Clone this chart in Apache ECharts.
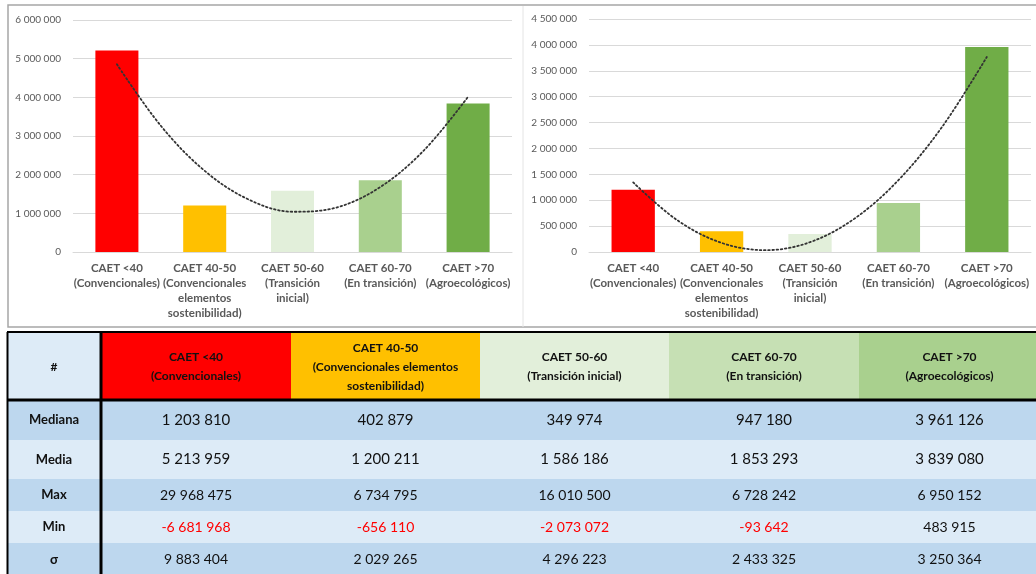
<!DOCTYPE html>
<html><head><meta charset="utf-8">
<script src="https://cdn.jsdelivr.net/npm/echarts@6/dist/echarts.min.js"></script>
<style>html,body{margin:0;padding:0;background:#fff}#c{width:1036px;height:574px}</style>
</head><body><div id="c"></div>
<script>
// ---- data ----
const categories = [
  'CAET <40\n(Convencionales)',
  'CAET 40-50\n(Convencionales\nelementos\nsostenibilidad)',
  'CAET 50-60\n(Transición\ninicial)',
  'CAET 60-70\n(En transición)',
  'CAET >70\n(Agroecológicos)'
];
const barColors = ['#FF0000', '#FFC000', '#E2EFDA', '#A9D08E', '#70AD47'];
const mediaValues = [5213959, 1200211, 1586186, 1853293, 3839080];
const medianaValues = [1203810, 402879, 349974, 947180, 3961126];
// trendline (dotted polynomial) at category positions
const mediaTrend = [[1, 4855000], [1.5, 3265000], [2, 2099000], [2.5, 1358000], [3, 1041000], [3.5, 1149000], [4, 1680000], [4.5, 2636000], [5, 4016000]];
const medianaTrend = [[1, 1344000], [1.5, 612000], [2, 176000], [2.5, 35000], [3, 190000], [3.5, 641000], [4, 1387000], [4.5, 2430000], [5, 3767000]];
const leftAxisMax = 6000000, leftAxisStep = 1000000;
const rightAxisMax = 4500000, rightAxisStep = 500000;

// table
const tableHeaders = ['#', 'CAET <40\n(Convencionales)', 'CAET 40-50\n(Convencionales elementos\nsostenibilidad)', 'CAET 50-60\n(Transición inicial)', 'CAET 60-70\n(En transición)', 'CAET >70\n(Agroecológicos)'];
const headerFills = ['#DDEBF7', '#FF0000', '#FFC000', '#E2EFDA', '#C6E0B4', '#A9D08E'];
const rowLabels = ['Mediana', 'Media', 'Max', 'Min', 'σ'];
const medianaRow = [1203810, 402879, 349974, 947180, 3961126];
const mediaRow = [5213959, 1200211, 1586186, 1853293, 3839080];
const maxRow = [29968475, 6734795, 16010500, 6728242, 6950152];
const minRow = [-6681968, -656110, -2073072, -93642, 483915];
const sigmaRow = [9883404, 2029265, 4296223, 2433325, 3250364];
const rowFills = ['#BDD7EE', '#DDEBF7', '#BDD7EE', '#DDEBF7', '#BDD7EE'];

// ---- layout ----
const colEdges = [7, 101, 291, 480, 669, 859, 1040];
const rowEdges = [332, 400, 440, 479, 511, 543, 576];
const rowFontSizes = [15, 15, 14, 14, 14];

function fmt(n) {
  const s = Math.abs(Math.round(n)).toString().replace(/\B(?=(\d{3})+(?!\d))/g, ' ');
  return (n < 0 ? '-' : '') + s;
}

const FONT = 'Lato, "Open Sans", sans-serif';
const chart = echarts.init(document.getElementById('c'));

function xCat(gi) {
  return {
    type: 'category', gridIndex: gi, data: categories,
    axisTick: { show: false },
    axisLine: { lineStyle: { color: '#D9D9D9' } },
    axisLabel: { interval: 0, color: '#595959', fontFamily: FONT, fontSize: 11.5, fontWeight: 'bold', lineHeight: 15, margin: 9, hideOverlap: false }
  };
}
function xVal(gi) {
  return { type: 'value', gridIndex: gi, min: 0.5, max: 5.5, show: false };
}
function yAx(gi, max, step) {
  return {
    type: 'value', gridIndex: gi, min: 0, max: max, interval: step,
    axisLine: { show: false }, axisTick: { show: false },
    splitLine: { lineStyle: { color: '#D9D9D9' } },
    axisLabel: { color: '#595959', fontFamily: FONT, fontSize: 10, margin: 12, formatter: fmt }
  };
}
function barData(vals) {
  return vals.map((v, i) => ({ value: v, itemStyle: { color: barColors[i] } }));
}
function trend(xi, yi, data) {
  return {
    type: 'line', xAxisIndex: xi, yAxisIndex: yi, data: data, smooth: 0.35, symbol: 'none',
    silent: true, z: 5,
    lineStyle: { color: '#333333', width: 1.8, type: [1.6, 2.6], cap: 'round' }
  };
}

// table graphics
const g = [];
// chart panel frames
g.push({ type: 'rect', shape: { x: 8, y: 5, width: 1040, height: 322 }, style: { fill: 'none', stroke: '#A6A6A6', lineWidth: 1.5 }, z: 1 });
g.push({ type: 'line', shape: { x1: 523, y1: 6, x2: 523, y2: 327 }, style: { stroke: '#E4E4E4', lineWidth: 1 }, z: 1 });
// header
for (let c = 0; c < tableHeaders.length; c++) {
  const x0 = colEdges[c], x1 = colEdges[c + 1];
  g.push({ type: 'rect', shape: { x: x0, y: rowEdges[0], width: x1 - x0, height: rowEdges[1] - rowEdges[0] }, style: { fill: headerFills[c] }, z: 2 });
  g.push({ type: 'text', x: (x0 + x1) / 2, y: (rowEdges[0] + rowEdges[1]) / 2 + 1, style: { text: tableHeaders[c], align: 'center', verticalAlign: 'middle', fontFamily: FONT, fontSize: 12, fontWeight: 'bold', lineHeight: 19, fill: '#111' }, z: 4 });
}
const bodyRows = [medianaRow, mediaRow, maxRow, minRow, sigmaRow];
for (let r = 0; r < bodyRows.length; r++) {
  const y0 = rowEdges[r + 1], y1 = rowEdges[r + 2];
  g.push({ type: 'rect', shape: { x: colEdges[0], y: y0, width: colEdges[colEdges.length - 1] - colEdges[0], height: y1 - y0 }, style: { fill: rowFills[r] }, z: 2 });
  g.push({ type: 'text', x: (colEdges[0] + colEdges[1]) / 2, y: (y0 + y1) / 2, style: { text: rowLabels[r], align: 'center', verticalAlign: 'middle', fontFamily: FONT, fontSize: 13, fontWeight: 'bold', fill: '#111' }, z: 4 });
  for (let c = 0; c < bodyRows[r].length; c++) {
    const x0 = colEdges[c + 1], x1 = colEdges[c + 2];
    const v = bodyRows[r][c];
    g.push({ type: 'text', x: (x0 + x1) / 2, y: (y0 + y1) / 2, style: { text: fmt(v), align: 'center', verticalAlign: 'middle', fontFamily: FONT, fontSize: rowFontSizes[r], fill: v < 0 ? '#FF0000' : '#111' }, z: 4 });
  }
}
// borders
g.push({ type: 'line', shape: { x1: 7, y1: rowEdges[0], x2: 1040, y2: rowEdges[0] }, style: { stroke: '#000', lineWidth: 2 }, z: 5 });
g.push({ type: 'line', shape: { x1: 7, y1: rowEdges[1], x2: 1040, y2: rowEdges[1] }, style: { stroke: '#000', lineWidth: 3 }, z: 5 });
g.push({ type: 'line', shape: { x1: 7.5, y1: rowEdges[0], x2: 7.5, y2: 576 }, style: { stroke: '#000', lineWidth: 2 }, z: 5 });
g.push({ type: 'line', shape: { x1: 101, y1: rowEdges[0], x2: 101, y2: 576 }, style: { stroke: '#000', lineWidth: 3 }, z: 5 });

chart.setOption({
  animation: false,
  backgroundColor: '#fff',
  grid: [
    { left: 73, top: 20, width: 439, height: 232 },
    { left: 589, top: 19, width: 442, height: 233 }
  ],
  xAxis: [xCat(0), xCat(1), xVal(0), xVal(1)],
  yAxis: [yAx(0, leftAxisMax, leftAxisStep), yAx(1, rightAxisMax, rightAxisStep)],
  series: [
    { type: 'bar', xAxisIndex: 0, yAxisIndex: 0, data: barData(mediaValues), barWidth: '49%' },
    { type: 'bar', xAxisIndex: 1, yAxisIndex: 1, data: barData(medianaValues), barWidth: '49%' },
    trend(2, 0, mediaTrend),
    trend(3, 1, medianaTrend)
  ],
  graphic: g
});
</script>
</body></html>
